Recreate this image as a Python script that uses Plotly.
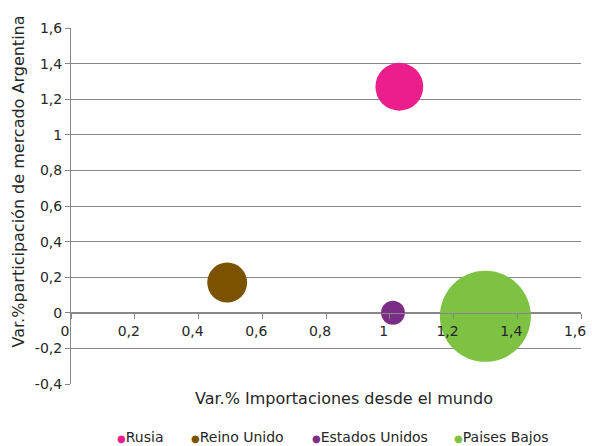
import plotly.graph_objects as go

# ---- data ----
countries = ["Rusia", "Reino Unido", "Estados Unidos", "Paises Bajos"]
var_importaciones = [1.03, 0.49, 1.01, 1.30]       # x
var_participacion = [1.27, 0.17, 0.00, -0.02]     # y
bubble_size = [27.6, 19.2, 6.9, 100.0]            # relative bubble size (area)
colors = ["#EC1E8C", "#7A5200", "#7B2C84", "#7DC242"]

x_ticks = [0, 0.2, 0.4, 0.6, 0.8, 1.0, 1.2, 1.4, 1.6]
x_labels = ["0", "0,2", "0,4", "0,6", "0,8", "1", "1,2", "1,4", "1,6"]
y_ticks = [-0.4, -0.2, 0, 0.2, 0.4, 0.6, 0.8, 1.0, 1.2, 1.4, 1.6]
y_labels = ["-0,4", "-0,2", "0", "0,2", "0,4", "0,6", "0,8", "1", "1,2", "1,4", "1,6"]

x_title = "Var.% Importaciones desde el mundo"
y_title = "Var.%participación de mercado Argentina"

FONT = "DejaVu Sans"
TXT = "#262626"
GRID = "#888888"

W, H = 592, 446
ML, MR, MT, MB = 71, 6, 28, 62
PW = W - ML - MR
PH = H - MT - MB

max_diam = 91
sizeref = 2.0 * max(bubble_size) / (max_diam ** 2)

fig = go.Figure()
for name, xv, yv, s, c in zip(countries, var_importaciones, var_participacion, bubble_size, colors):
    fig.add_trace(go.Scatter(
        x=[xv], y=[yv], mode="markers", name=name,
        marker=dict(size=[s], sizemode="area", sizeref=sizeref, color=c,
                    line=dict(width=0), opacity=1),
        showlegend=False, hoverinfo="skip",
    ))

y0, y1 = y_ticks[0], y_ticks[-1]
fig.update_layout(
    width=W, height=H,
    margin=dict(l=ML, r=MR, t=MT, b=MB, pad=0),
    paper_bgcolor="white", plot_bgcolor="white",
    font=dict(family=FONT, size=14, color=TXT),
    showlegend=False,
    xaxis=dict(
        range=[x_ticks[0], x_ticks[-1]], tickvals=x_ticks, ticktext=x_labels,
        anchor="free", position=(0 - y0) / (y1 - y0),
        showline=True, linecolor=GRID, linewidth=1,
        ticks="outside", ticklen=5, tickcolor=GRID, tickwidth=1,
        showgrid=False, zeroline=False,
        tickfont=dict(family=FONT, size=14, color=TXT),
        ticklabelshift=-6,
    ),
    yaxis=dict(
        range=[y0, y1], tickvals=y_ticks, ticktext=y_labels,
        showline=True, linecolor=GRID, linewidth=1,
        ticks="outside", ticklen=5, tickcolor=GRID, tickwidth=1,
        showgrid=True, gridcolor=GRID, gridwidth=1, zeroline=False,
        tickfont=dict(family=FONT, size=14, color=TXT),
    ),
)

def px_x(px):
    return (px - ML) / PW

def px_y(py):
    return (H - MB - py) / PH

annotations = [
    dict(text=x_title, xref="paper", yref="paper", x=px_x(347), y=px_y(398),
         xanchor="center", yanchor="middle", showarrow=False,
         font=dict(family=FONT, size=16, color=TXT)),
    dict(text=y_title, xref="paper", yref="paper", x=px_x(18), y=px_y(182),
         xanchor="center", yanchor="middle", showarrow=False, textangle=-90,
         font=dict(family=FONT, size=16, color=TXT)),
]
legend_left = [115, 190, 312, 456]
for name, c, lx in zip(countries, colors, legend_left):
    annotations.append(dict(
        text=f"<span style='color:{c};font-size:10px'>●</span>{name}",
        xref="paper", yref="paper", x=px_x(lx), y=px_y(437),
        xanchor="left", yanchor="middle", showarrow=False,
        font=dict(family=FONT, size=14, color=TXT),
    ))
fig.update_layout(annotations=annotations)

fig.write_html(
    "out.html",
    config={"displayModeBar": False},
    post_script="document.body.style.margin='0';document.body.style.overflow='hidden';",
)
